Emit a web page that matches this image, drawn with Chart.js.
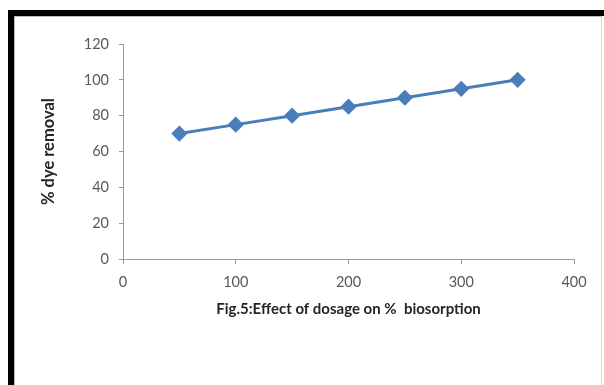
<!DOCTYPE html>
<html>
<head>
<meta charset="utf-8">
<script src="https://cdn.jsdelivr.net/npm/chart.js@4/dist/chart.umd.min.js"></script>
<style>
  html, body { margin: 0; padding: 0; background: #fff; width: 604px; height: 385px; overflow: hidden; }
  #frame { position: absolute; left: 8px; top: 10px; width: 600px; height: 380px; border-top: 6px solid #000; border-left: 6px solid #000; box-sizing: border-box; }
  #inner { position: absolute; left: 14px; top: 16px; width: 588px; height: 375px; border-top: 1px solid #bdbdbd; border-left: 1px solid #bdbdbd; border-right: 1px solid #d9d9d9; box-sizing: border-box; }
  #c { position: absolute; left: 0; top: 0; }
</style>
</head>
<body>
<div id="frame"></div>
<div id="inner"></div>
<canvas id="c" width="604" height="385"></canvas>
<script>
const dosage = [50, 100, 150, 200, 250, 300, 350];
const dyeRemoval = [70, 75, 80, 85, 90, 95, 100];
const xTicks = [0, 100, 200, 300, 400];
const yTicks = [0, 20, 40, 60, 80, 100, 120];
const xTitle = 'Fig.5:Effect of dosage on %  biosorption';
const yTitle = '% dye removal';

const FONT = 'Lato, "Liberation Sans", sans-serif';

new Chart(document.getElementById('c'), {
  type: 'scatter',
  data: {
    datasets: [{
      data: dosage.map((x, i) => ({ x: x, y: dyeRemoval[i] })),
      showLine: true,
      borderColor: '#4A7EBB',
      backgroundColor: '#4A7EBB',
      borderWidth: 3,
      pointStyle: 'rectRot',
      pointRadius: 6,
      pointHoverRadius: 6,
      tension: 0
    }]
  },
  options: {
    responsive: false,
    animation: false,
    devicePixelRatio: 1,
    layout: { padding: { top: 44, right: 30, left: 0, bottom: 0 } },
    plugins: { legend: { display: false }, tooltip: { enabled: false } },
    scales: {
      x: {
        type: 'linear',
        min: 0, max: 400,
        afterBuildTicks: s => { s.ticks = xTicks.map(v => ({ value: v })); },
        afterFit: s => { s.height = 126; },
        grid: { display: true, drawOnChartArea: false, drawTicks: true, tickLength: 5, color: '#9a9a9a' },
        border: { display: true, color: '#9a9a9a', width: 1 },
        ticks: { color: '#595959', font: { family: FONT, size: 14.5 }, padding: 10, maxRotation: 0 },
        title: { display: true, text: xTitle, color: '#262626', font: { family: FONT, size: 15, weight: 'bold' }, padding: { top: 0, bottom: 67 } }
      },
      y: {
        type: 'linear',
        min: 0, max: 120,
        afterBuildTicks: s => { s.ticks = yTicks.map(v => ({ value: v })); },
        afterFit: s => { s.width = 123; },
        grid: { display: true, drawOnChartArea: false, drawTicks: true, tickLength: 4, color: '#9a9a9a' },
        border: { display: true, color: '#9a9a9a', width: 1 },
        ticks: { color: '#595959', font: { family: FONT, size: 14.5 }, padding: 10 },
        title: { display: true, text: yTitle, color: '#262626', font: { family: FONT, size: 16.5, weight: 'bold' }, padding: { top: 39, bottom: 0 } }
      }
    }
  }
});
</script>
</body>
</html>
